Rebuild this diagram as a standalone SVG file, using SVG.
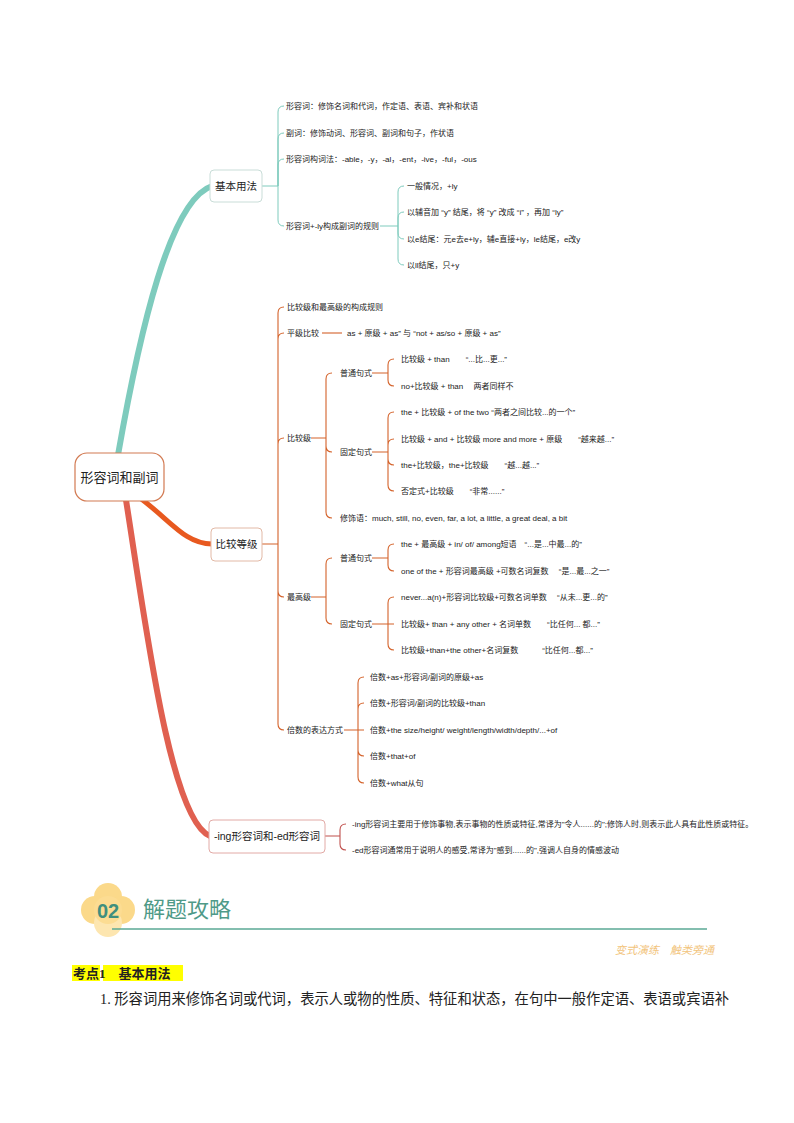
<svg xmlns="http://www.w3.org/2000/svg" width="794" height="1123" viewBox="0 0 794 1123">
<style>
text{font-family:"Liberation Sans","Noto Sans CJK SC",sans-serif;fill:#222}
.t{font-size:8px}
.g{fill:none;stroke:#7ecbbd;stroke-width:1}
.o{fill:none;stroke:#d4622a;stroke-width:1.1}
.r{fill:none;stroke:#c0504d;stroke-width:1.1}
</style>
<rect width="794" height="1123" fill="#fff"/>
<g id="connectors">
<path d="M118,455 C140,330 170,200 212,186" fill="none" stroke="#7ecbbd" stroke-width="6" stroke-linecap="round"/>
<path d="M140,498 C170,520 185,544 212,544" fill="none" stroke="#e8591f" stroke-width="5" stroke-linecap="round"/>
<path d="M126,500 C145,620 170,820 210,836" fill="none" stroke="#e06050" stroke-width="6" stroke-linecap="round"/>
<path class="g" d="M262,186 H278 M278,186 V112 Q278,106 284,106 M278,186 V139 Q278,133 284,133 M278,186 V165 Q278,159 284,159 M278,186 V220 Q278,226 284,226"/>
<path class="g" d="M380,226 H398 M398,226 V192 Q398,186 404,186 M398,226 V218 Q398,212 404,212 M398,226 V233 Q398,239 404,239 M398,226 V259 Q398,265 404,265"/>
<path class="o" d="M262,544 H278 M278,544 V313 Q278,307 284,307 M278,544 V339 Q278,333 284,333 M278,544 V444 Q278,438 284,438 M278,544 V591 Q278,597 284,597 M278,544 V724 Q278,730 284,730"/>
<path class="o" d="M322,333 H342"/>
<path class="o" d="M311,438 H326 M326,438 V379 Q326,373 332,373 M326,438 V446 Q326,452 332,452 M326,438 V512 Q326,518 332,518"/>
<path class="o" d="M372,373 H388 M388,373 V365 Q388,359 394,359 M388,373 V380 Q388,386 394,386"/>
<path class="o" d="M372,452 H388 M388,452 V418 Q388,412 394,412 M388,452 V445 Q388,439 394,439 M388,452 V459 Q388,465 394,465 M388,452 V485 Q388,491 394,491"/>
<path class="o" d="M311,597 H326 M326,597 V564 Q326,558 332,558 M326,597 V618 Q326,624 332,624"/>
<path class="o" d="M372,558 H388 M388,558 V550 Q388,544 394,544 M388,558 V565 Q388,571 394,571"/>
<path class="o" d="M372,624 H388 M388,624 V603 Q388,597 394,597 M388,624 H394 M388,624 V644 Q388,650 394,650"/>
<path class="o" d="M344,730 H358 M358,730 V683 Q358,677 364,677 M358,730 V709 Q358,703 364,703 M358,730 H364 M358,730 V750 Q358,756 364,756 M358,730 V777 Q358,783 364,783"/>
<path class="r" d="M325,836 H340 M340,836 V830 Q340,824 346,824 M340,836 V844 Q340,850 346,850"/>
</g>
<g id="root"><rect x="75" y="453" width="89" height="48" rx="12" fill="#fff" stroke="#d27a52" stroke-width="1.2"/><text x="119.5" y="482" font-size="13" text-anchor="middle">形容词和副词</text></g>
<g id="n1"><rect x="210" y="170" width="52" height="32" rx="4" fill="#fff" stroke="#c9ddd8"/><text x="236" y="190" font-size="10.5" text-anchor="middle">基本用法</text></g>
<g id="n2"><rect x="211" y="528" width="51" height="33" rx="4" fill="#fff" stroke="#e2b9a6"/><text x="236.5" y="548" font-size="10.5" text-anchor="middle">比较等级</text></g>
<g id="n3"><rect x="209" y="820" width="116" height="33" rx="4" fill="#fff" stroke="#e2aaa6"/><text x="267" y="840" font-size="10.5" text-anchor="middle">-ing形容词和-ed形容词</text></g>
<g id="leaves">
<text class="t" x="286" y="109">形容词：修饰名词和代词，作定语、表语、宾补和状语</text>
<text class="t" x="286" y="136">副词：修饰动词、形容词、副词和句子，作状语</text>
<text class="t" x="286" y="162">形容词构词法：-able，-y，-al，-ent，-ive，-ful，-ous</text>
<text class="t" x="286" y="229">形容词+-ly构成副词的规则</text>
<text class="t" x="407" y="189">一般情况，+ly</text>
<text class="t" x="407" y="215">以辅音加 “y” 结尾，将 “y” 改成 “i” ，再加 “ly”</text>
<text class="t" x="407" y="242">以e结尾：元e去e+ly，辅e直接+ly，le结尾，e改y</text>
<text class="t" x="407" y="268">以ll结尾，只+y</text>
<text class="t" x="287" y="310">比较级和最高级的构成规则</text>
<text class="t" x="287" y="336">平级比较</text>
<text class="t" x="347" y="336">as + 原级 + as” 与 “not + as/so + 原级 + as”</text>
<text class="t" x="287" y="441">比较级</text>
<text class="t" x="340" y="376">普通句式</text>
<text class="t" x="340" y="455">固定句式</text>
<text class="t" x="340" y="521">修饰语：much, still, no, even, far, a lot, a little, a great deal, a bit</text>
<text class="t" x="401" y="362">比较级 + than　　“...比...更...”</text>
<text class="t" x="401" y="389">no+比较级 + than　 两者同样不</text>
<text class="t" x="401" y="415">the + 比较级 + of the two “两者之间比较...的一个”</text>
<text class="t" x="401" y="442">比较级 + and + 比较级  more and more + 原级　　“越来越...”</text>
<text class="t" x="401" y="468">the+比较级，the+比较级　　“越...越...”</text>
<text class="t" x="401" y="494">否定式+比较级　　“非常......”</text>
<text class="t" x="287" y="600">最高级</text>
<text class="t" x="340" y="561">普通句式</text>
<text class="t" x="340" y="627">固定句式</text>
<text class="t" x="401" y="547">the + 最高级 + in/ of/ among短语　“...是...中最...的”</text>
<text class="t" x="401" y="574">one of the + 形容词最高级 +可数名词复数　 “是...最...之一”</text>
<text class="t" x="401" y="600">never...a(n)+形容词比较级+可数名词单数　 “从未...更...的”</text>
<text class="t" x="401" y="627">比较级+ than + any other + 名词单数　　“比任何... 都...”</text>
<text class="t" x="401" y="653">比较级+than+the other+名词复数　　　“比任何...都...”</text>
<text class="t" x="287" y="733">倍数的表达方式</text>
<text class="t" x="370" y="680">倍数+as+形容词/副词的原级+as</text>
<text class="t" x="370" y="706">倍数+形容词/副词的比较级+than</text>
<text class="t" x="370" y="733">倍数+the size/height/ weight/length/width/depth/...+of</text>
<text class="t" x="370" y="759">倍数+that+of</text>
<text class="t" x="370" y="786">倍数+what从句</text>
<text class="t" x="352" y="827">-ing形容词主要用于修饰事物,表示事物的性质或特征,常译为"令人......的";修饰人时,则表示此人具有此性质或特征。</text>
<text class="t" x="352" y="853">-ed形容词通常用于说明人的感受,常译为"感到......的",强调人自身的情感波动</text>
</g>
<g id="header">
<circle cx="108" cy="897" r="14" fill="#fbd98a"/><circle cx="95" cy="910" r="14" fill="#fbd98a"/><circle cx="121" cy="910" r="14" fill="#fbd98a"/><circle cx="108" cy="923" r="14" fill="#fde6b0"/><circle cx="108" cy="910" r="14" fill="#fcdc92"/>
<text x="108" y="918" font-size="20" font-weight="bold" text-anchor="middle" style="fill:#3f8f7e">02</text>
<text x="143" y="917" font-size="22" style="fill:#4f9a88">解题攻略</text>
<line x1="112" y1="929" x2="707" y2="929" stroke="#5aa895" stroke-width="1.5"/>
<text x="714" y="954" font-size="11" text-anchor="end" font-style="italic" style="fill:#f2c47c">变式演练　触类旁通</text>
<rect x="72" y="965" width="28" height="16" fill="#ffff00"/><rect x="103" y="965" width="80" height="16" fill="#ffff00"/>
<text x="73" y="978" font-size="13" font-weight="bold" style="font-family:'Liberation Serif','Noto Sans CJK SC',serif">考点1　基本用法</text>
<text x="100" y="1004" font-size="14.3" style="font-family:'Liberation Serif','Noto Sans CJK SC',serif">1. 形容词用来修饰名词或代词，表示人或物的性质、特征和状态，在句中一般作定语、表语或宾语补</text>
</g>
</svg>
